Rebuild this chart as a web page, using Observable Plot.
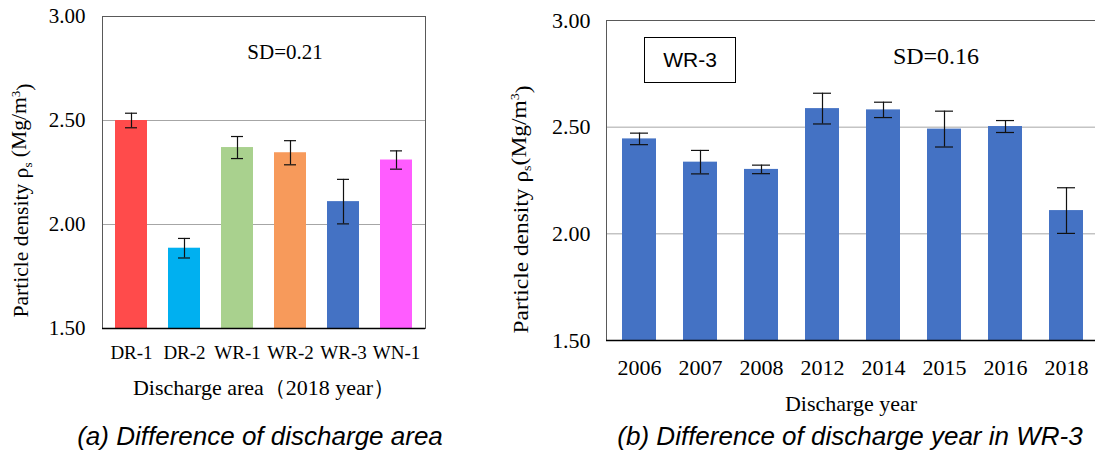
<!DOCTYPE html>
<html><head><meta charset="utf-8">
<script src="https://cdn.jsdelivr.net/npm/d3@7"></script>
<script src="https://cdn.jsdelivr.net/npm/@observablehq/plot@0.6"></script>
<style>
body{margin:0;background:#fff;width:1095px;height:475px;overflow:hidden;position:relative;font-family:"Liberation Serif",serif}
#a{position:absolute;left:0;top:0}
#b{position:absolute;left:480px;top:0}
.cap{position:absolute;top:421px;font-family:"Liberation Sans",Arial,sans-serif;font-style:italic;font-size:26px;white-space:nowrap;transform:translateX(-50%);color:#000}
#tag{position:absolute;left:644px;top:37px;width:92px;height:46px;border:1.5px solid #000;box-sizing:border-box;font-family:"Liberation Sans",Arial,sans-serif;font-size:21px;display:flex;align-items:center;justify-content:center;background:#fff}
</style></head><body>
<div id="a"></div><div id="b"></div>
<div id="tag">WR-3</div>
<div class="cap" style="left:260px">(a) Difference of discharge area</div>
<div class="cap" style="left:850px">(b) Difference of discharge year in WR-3</div>
<script>
// ---- data ----
const areas = ["DR-1", "DR-2", "WR-1", "WR-2", "WR-3", "WN-1"];
const areaMeans = [2.50, 1.886, 2.370, 2.345, 2.110, 2.310];
const areaErrs = [0.035, 0.047, 0.053, 0.058, 0.107, 0.044];
const areaColors = ["#ff4b4b", "#00b0f0", "#a9d18e", "#f79a5b", "#4472c4", "#ff5cff"];

const years = ["2006", "2007", "2008", "2012", "2014", "2015", "2016", "2018"];
const yearMeans = [2.445, 2.336, 2.302, 2.587, 2.581, 2.491, 2.503, 2.109];
const yearErrs = [0.027, 0.055, 0.020, 0.072, 0.036, 0.084, 0.028, 0.107];
const yearColor = "#4472c4";

const yDomain = [1.5, 3.0];
const yTicks = [1.5, 2.0, 2.5, 3.0];
const gridTicks = [2.0, 2.5];
const sdArea = ["SD=0.21"];
const sdYear = ["SD=0.16"];
const yLabelA = "Particle density ρs (Mg/m3)";
const yLabelB = "Particle density ρs(Mg/m3)";
const xLabelA = "Discharge area（2018 year）";
const xLabelB = "Discharge year";

const dataA = areas.map((a, i) => ({cat: a, mean: areaMeans[i], err: areaErrs[i]}));
const dataB = years.map((y, i) => ({cat: y, mean: yearMeans[i], err: yearErrs[i]}));

function fixLabel(svg, len, shift, gap) {
  const g = d3.select(svg).select('g[aria-label="y-axis label"]');
  g.attr("transform", (g.attr("transform") || "") + ` translate(0,${shift})`);
  g.selectAll("text").each(function() {
    const t = d3.select(this);
    t.text(null);
    t.attr("textLength", len).attr("lengthAdjust", "spacingAndGlyphs");
    t.append("tspan").text("Particle density ρ");
    t.append("tspan").attr("font-size", "0.6em").attr("dy", "0.25em").text("s");
    t.append("tspan").attr("dy", "-0.25em").text(gap + "(Mg/m");
    t.append("tspan").attr("font-size", "0.6em").attr("dy", "-0.5em").text("3");
    t.append("tspan").attr("dy", "0.5em").text(")");
  });
  return svg;
}

const chartA = Plot.plot({
  width: 470, height: 425,
  marginLeft: 102, marginRight: 45, marginTop: 16, marginBottom: 97,
  style: {fontFamily: "'Liberation Serif', serif", fontSize: "19px", color: "#000", background: "#fff"},
  x: {domain: areas, paddingInner: 0.4, paddingOuter: 0.225},
  y: {domain: yDomain},
  color: {domain: areas, range: areaColors},
  marks: [
    Plot.ruleY(gridTicks, {stroke: "#a6a6a6", strokeWidth: 1}),
    Plot.barY(dataA, {x: "cat", y1: yDomain[0], y2: "mean", fill: "cat"}),
    Plot.ruleX(dataA, {x: "cat", y1: d => d.mean - d.err, y2: d => d.mean + d.err, stroke: "#111", strokeWidth: 1.2}),
    Plot.tickY(dataA, {x: "cat", y: d => d.mean + d.err, insetLeft: 22, insetRight: 22, stroke: "#111", strokeWidth: 1.2}),
    Plot.tickY(dataA, {x: "cat", y: d => d.mean - d.err, insetLeft: 22, insetRight: 22, stroke: "#111", strokeWidth: 1.2}),
    Plot.frame({stroke: "#595959"}),
    Plot.ruleY([yDomain[0]], {stroke: "#000", strokeWidth: 1.3}),
    Plot.text(sdArea, {text: d => d, frameAnchor: "top", lineAnchor: "middle", dx: 21, dy: 36, fontSize: 21}),
    Plot.axisX({tickSize: 0, tickPadding: 17, fontSize: 19, label: xLabelA, labelAnchor: "center", labelOffset: 66}),
    Plot.axisY({ticks: yTicks, tickFormat: d3.format(".2f"), tickSize: 0, tickPadding: 17, fontSize: 21,
      label: yLabelA, labelAnchor: "center", labelOffset: 89})
  ]
});
d3.select(chartA).select('g[aria-label="x-axis label"]').attr("font-size", 22);
document.getElementById("a").appendChild(fixLabel(chartA, 234, 28, " "));

const chartB = Plot.plot({
  width: 615, height: 425,
  marginLeft: 126, marginRight: 0, marginTop: 20, marginBottom: 85,
  style: {fontFamily: "'Liberation Serif', serif", fontSize: "22px", color: "#000", background: "#fff"},
  x: {domain: years, paddingInner: 0.45, paddingOuter: 0.24, range: [126, 619]},
  y: {domain: yDomain},
  marks: [
    Plot.ruleY(gridTicks, {stroke: "#a6a6a6", strokeWidth: 1}),
    Plot.barY(dataB, {x: "cat", y1: yDomain[0], y2: "mean", fill: yearColor}),
    Plot.ruleX(dataB, {x: "cat", y1: d => d.mean - d.err, y2: d => d.mean + d.err, stroke: "#111", strokeWidth: 1.2}),
    Plot.tickY(dataB, {x: "cat", y: d => d.mean + d.err, insetLeft: 26, insetRight: 26, stroke: "#111", strokeWidth: 1.2}),
    Plot.tickY(dataB, {x: "cat", y: d => d.mean - d.err, insetLeft: 26, insetRight: 26, stroke: "#111", strokeWidth: 1.2}),
    Plot.frame({stroke: "#595959"}),
    Plot.ruleY([yDomain[0]], {stroke: "#000", strokeWidth: 1.3}),
    Plot.text(sdYear, {text: d => d, frameAnchor: "top", lineAnchor: "middle", dx: 85, dy: 36, fontSize: 24}),
    Plot.axisX({tickSize: 0, tickPadding: 19, fontSize: 22, label: xLabelB, labelAnchor: "center", labelOffset: 70}),
    Plot.axisY({ticks: yTicks, tickFormat: d3.format(".2f"), tickSize: 0, tickPadding: 16, fontSize: 22,
      label: yLabelB, labelAnchor: "center", labelOffset: 94})
  ]
});
document.getElementById("b").appendChild(fixLabel(chartB, 248, 29, ""));
</script>
</body></html>
